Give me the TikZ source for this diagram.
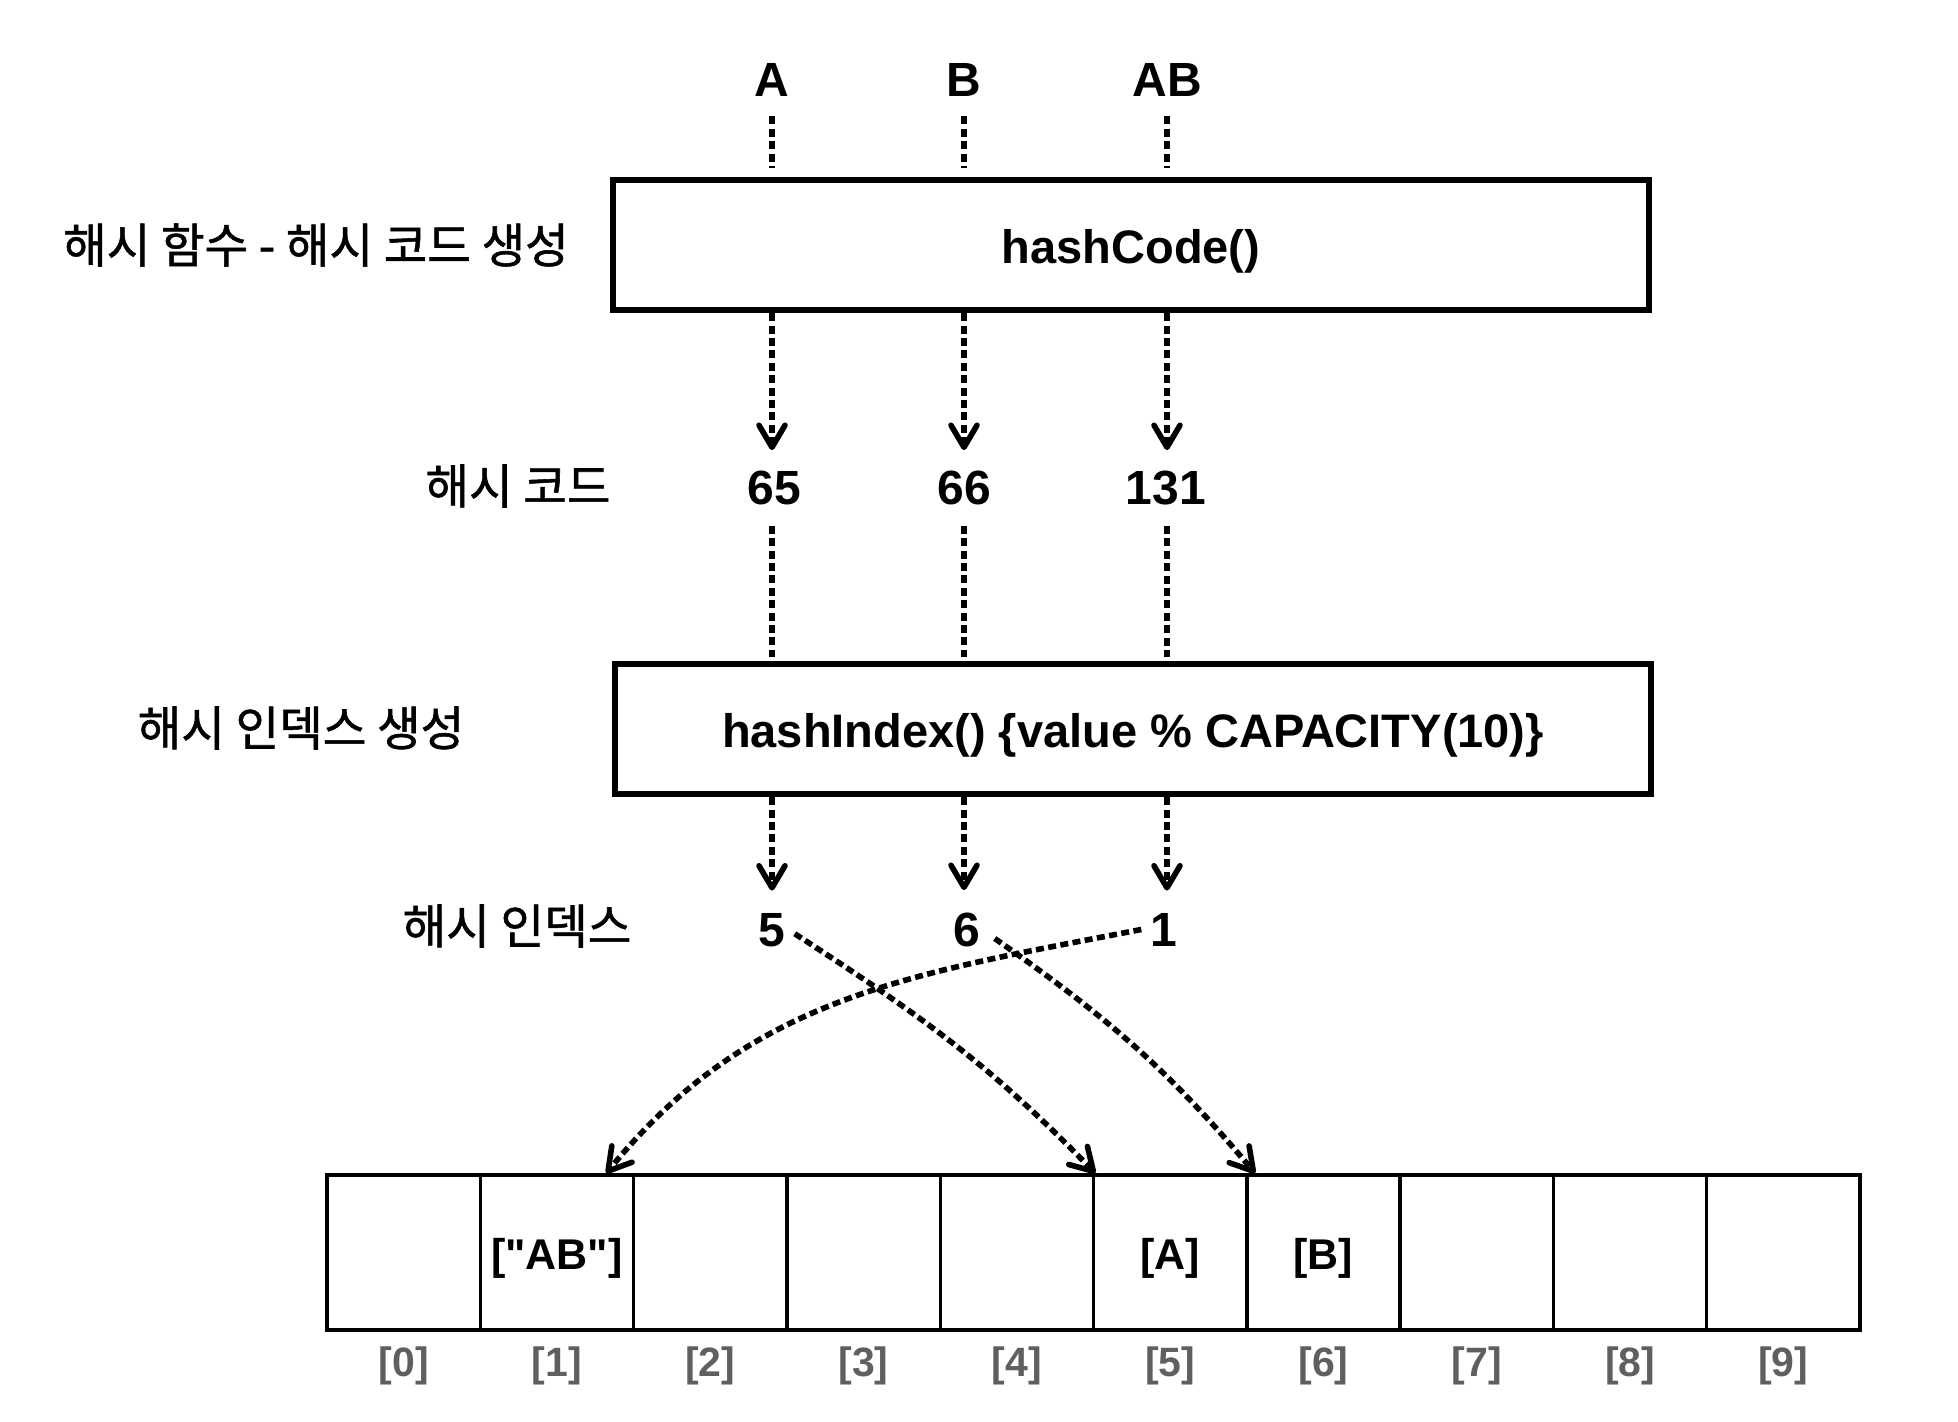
\documentclass[tikz,border=0pt]{standalone}
\usepackage{fontspec}
\setmainfont{Liberation Sans}
\newfontfamily\plainf{Liberation Sans}[Ligatures=TeXOff]
\newfontfamily\kr{Noto Sans CJK KR}[UprightFeatures={FakeBold=1.2}]
\usetikzlibrary{arrows.meta}
\definecolor{idxgray}{RGB}{95,95,95}
\tikzset{
  lat/.style={font=\fontsize{24}{28}\selectfont\bfseries, inner sep=0pt},
  kor/.style={font=\kr\fontsize{23.7}{28}\selectfont, inner sep=0pt},
  fnbox/.style={draw, line width=3.25pt, minimum width=518pt, minimum height=65pt,
    inner sep=0pt, text height=18.5pt, text depth=0pt,
    font=\fontsize{23.5}{28}\selectfont\bfseries},
  cellbox/.style={draw, line width=1.7pt, minimum width=76.65pt, minimum height=77.5pt,
    inner sep=0pt, text height=21pt, text depth=4.5pt,
    font=\plainf\fontsize{21.5}{26}\selectfont\bfseries},
  idxlab/.style={inner sep=0pt, text=idxgray, font=\fontsize{20.5}{24}\selectfont\bfseries},
  dotline/.style={line width=2.8pt, dash pattern=on 4pt off 2.2pt},
  dotarrow/.style={dotline, -{Straight Barb[length=11pt,width=13pt,round]}},
}
\begin{document}
\begin{tikzpicture}[x=0.5pt,y=-0.5pt]
\useasboundingbox (0,0) rectangle (1958,1422);

% inputs
\node[lat,anchor=base] (la)  at (772,97) {A};
\node[lat,anchor=base] (lb)  at (964,97) {B};
\node[lat,anchor=base] (lab) at (1167,97) {AB};

% hash function box
\node[fnbox] (hc) at (1131,245) {hashCode()};
\node[kor] (k1) at (316,245) {해시 함수 - 해시 코드 생성};

% hash codes
\node[lat,anchor=base] (n65)  at (774,505) {65};
\node[lat,anchor=base] (n66)  at (964,505) {66};
\node[lat,anchor=base] (n131) at (1166,505) {131};
\node[kor] (k2) at (518,486) {해시 코드};

% hash index box
\node[fnbox] (hi) at (1133,729) {hashIndex() \{value \% CAPACITY(10)\}};
\node[kor] (k3) at (301,728) {해시 인덱스 생성};

% hash indexes
\node[lat,anchor=base] (i5) at (772,946) {5};
\node[lat,anchor=base] (i6) at (967,946) {6};
\node[lat,anchor=base] (i1) at (1164,946) {1};
\node[kor] (k4) at (517,926) {해시 인덱스};

% array
\foreach \i/\t in {0/,1/{["AB"]},2/,3/,4/,5/{[A]},6/{[B]},7/,8/,9/} {
  \node[cellbox] (c\i) at ({403.65+153.3*\i},1252.5) {\t};
  \node[idxlab] (x\i) at ({403.65+153.3*\i},1366) {[\i]};
}

% connectors: inputs -> hashCode
\foreach \n in {la,lb,lab}
  \draw[dotline, shorten <=9.5pt, shorten >=4.5pt] (\n.south) -- (\n.south |- hc.north);

% hashCode -> codes
\draw[dotarrow, shorten >=10.5pt] (hc.south -| la)  -- (la |- n65.north);
\draw[dotarrow, shorten >=10.5pt] (hc.south -| lb)  -- (lb |- n66.north);
\draw[dotarrow, shorten >=10.5pt] (hc.south -| lab) -- (lab |- n131.north);

% codes -> hashIndex
\draw[dotline, shorten <=10pt, shorten >=2pt] (la |- n65.south)   -- (la |- hi.north);
\draw[dotline, shorten <=10pt, shorten >=2pt] (lb |- n66.south)   -- (lb |- hi.north);
\draw[dotline, shorten <=10pt, shorten >=2pt] (lab |- n131.south) -- (lab |- hi.north);

% hashIndex -> indexes
\draw[dotarrow, shorten >=11pt] (hi.south -| la)  -- (la |- i5.north);
\draw[dotarrow, shorten >=11pt] (hi.south -| lb)  -- (lb |- i6.north);
\draw[dotarrow, shorten >=11pt] (hi.south -| lab) -- (lab |- i1.north);

% indexes -> array slots
\draw[dotarrow] ([xshift=4.5pt,yshift=-2pt]i5.east) to[out=-33,in=134] ([xshift=1.75pt]c5.north west);
\draw[dotarrow] ([xshift=7pt,yshift=-4.5pt]i6.east) to[out=-35,in=130] ([xshift=5pt]c6.north west);
\draw[dotarrow] ([xshift=-4.5pt]i1.west) to[out=191,in=51] ([xshift=-14.5pt]c1.north east);
\end{tikzpicture}
\end{document}
